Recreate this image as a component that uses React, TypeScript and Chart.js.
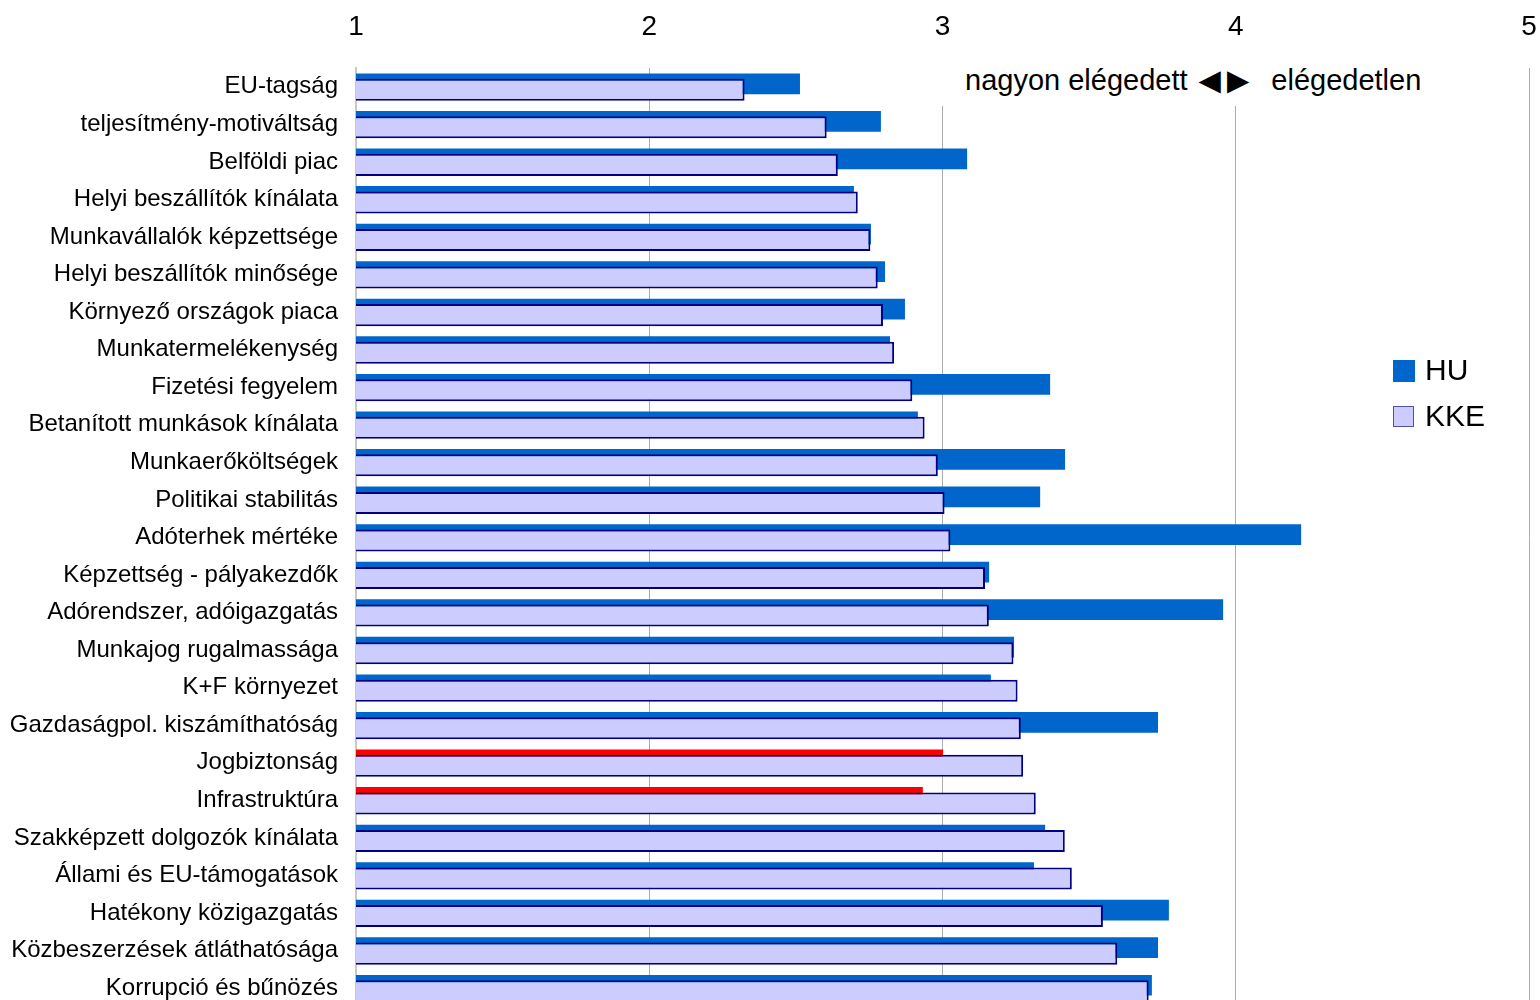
import React, { useEffect, useRef } from "react";
import { Chart, registerables } from "chart.js";

Chart.register(...registerables);

const CATEGORIES = [
  "EU-tagság",
  "teljesítmény-motiváltság",
  "Belföldi piac",
  "Helyi beszállítók kínálata",
  "Munkavállalók képzettsége",
  "Helyi beszállítók minősége",
  "Környező országok piaca",
  "Munkatermelékenység",
  "Fizetési fegyelem",
  "Betanított munkások kínálata",
  "Munkaerőköltségek",
  "Politikai stabilitás",
  "Adóterhek mértéke",
  "Képzettség - pályakezdők",
  "Adórendszer, adóigazgatás",
  "Munkajog rugalmassága",
  "K+F környezet",
  "Gazdaságpol. kiszámíthatóság",
  "Jogbiztonság",
  "Infrastruktúra",
  "Szakképzett dolgozók kínálata",
  "Állami és EU-támogatások",
  "Hatékony közigazgatás",
  "Közbeszerzések átláthatósága",
  "Korrupció és bűnözés",
];

const HU_VALUES = [
  2.514, 2.79, 3.084, 2.698, 2.756, 2.804, 2.872, 2.821, 3.367, 2.916, 3.418,
  3.333, 4.223, 3.159, 3.957, 3.244, 3.165, 3.735, 3.002, 2.933, 3.35, 3.312,
  3.772, 3.735, 3.714,
];

const KKE_VALUES = [
  2.325, 2.605, 2.643, 2.711, 2.754, 2.779, 2.797, 2.835, 2.897, 2.939, 2.984,
  3.007, 3.027, 3.145, 3.158, 3.242, 3.256, 3.267, 3.275, 3.318, 3.417, 3.441,
  3.547, 3.596, 3.703,
];

const HU_HIGHLIGHTED = ["Jogbiztonság", "Infrastruktúra"];

const X_TICKS = [1, 2, 3, 4, 5];

const SERIES_NAMES = ["HU", "KKE"];

const NOTE_LEFT = "nagyon elégedett";
const NOTE_ARROWS = "◀▶";
const NOTE_RIGHT = "elégedetlen";

const FONT = "'Liberation Sans', Arial, Helvetica, sans-serif";
const HU_COLOR = "#0066CC";
const HU_HIGHLIGHT_COLOR = "#FF0000";
const KKE_FILL = "#CCCCFF";
const KKE_BORDER = "#000080";

export default function App() {
  const canvasRef = useRef<HTMLCanvasElement | null>(null);

  useEffect(() => {
    const canvas = canvasRef.current;
    if (!canvas) return;
    const chart = new Chart(canvas, {
      type: "bar",
      data: {
        labels: CATEGORIES,
        datasets: [
          {
            label: "",
            data: [],
            stack: "hu",
          },
          {
            label: SERIES_NAMES[1],
            data: KKE_VALUES,
            stack: "kke",
            backgroundColor: KKE_FILL,
            borderColor: KKE_BORDER,
            borderWidth: 2,
            borderSkipped: false,
            categoryPercentage: 0.317,
            barPercentage: 3.7,
          },
          {
            label: SERIES_NAMES[0],
            data: HU_VALUES,
            stack: "hu",
            backgroundColor: CATEGORIES.map((c) =>
              HU_HIGHLIGHTED.includes(c) ? HU_HIGHLIGHT_COLOR : HU_COLOR
            ),
            borderWidth: 0,
            categoryPercentage: 0.317,
            barPercentage: 3.48,
          },
        ],
      },
      options: {
        indexAxis: "y",
        responsive: false,
        animation: false,
        devicePixelRatio: 1,
        layout: { padding: { left: 0, right: 11, top: 0, bottom: 3 } },
        plugins: {
          legend: { display: false },
          tooltip: { enabled: false },
        },
        scales: {
          x: {
            type: "linear",
            position: "top",
            min: X_TICKS[0],
            max: X_TICKS[X_TICKS.length - 1],
            stacked: false,
            afterBuildTicks: (scale: any) => {
              scale.ticks = X_TICKS.map((v) => ({ value: v }));
            },
            afterFit: (scale: any) => {
              scale.height = 68;
              scale.paddingLeft = 0;
              scale.paddingRight = 0;
            },
            ticks: {
              font: { family: FONT, size: 28 },
              color: "#000000",
              padding: 24,
            },
            grid: { color: "#ABABAB", lineWidth: 1, drawTicks: false },
            border: { display: false },
          },
          y: {
            type: "category",
            afterFit: (scale: any) => {
              scale.width = 356;
              scale.paddingTop = 0;
              scale.paddingBottom = 0;
            },
            ticks: {
              font: { family: FONT, size: 24 },
              color: "#000000",
              padding: 18,
              autoSkip: false,
            },
            grid: { display: false, drawTicks: false },
            border: { display: true, color: "#C8C8C8", width: 2 },
          },
        },
      },
    } as any);
    return () => chart.destroy();
  }, []);

  return (
    <div
      style={{
        position: "fixed",
        left: 0,
        top: 0,
        width: 1540,
        height: 1000,
        overflow: "hidden",
        background: "#ffffff",
      }}
    >
      <canvas
        ref={canvasRef}
        width={1540}
        height={1010}
        style={{ display: "block", width: 1540, height: 1010 }}
      />
      <div
        style={{
          position: "absolute",
          left: 930,
          top: 60,
          height: 46,
          paddingTop: 0,
          paddingLeft: 35,
          paddingRight: 20,
          background: "#ffffff",
          fontFamily: FONT,
          fontSize: 29,
          lineHeight: "40px",
          color: "#000",
          whiteSpace: "pre",
        }}
      >
        {NOTE_LEFT + " "}
        <span
          style={{
            fontFamily: "'DejaVu Sans', sans-serif",
            fontSize: 29,
            letterSpacing: 6,
            marginLeft: 3,
          }}
        >
          {NOTE_ARROWS}
        </span>
        {"  " + NOTE_RIGHT}
      </div>
      <div
        style={{
          position: "absolute",
          left: 1393,
          top: 360,
          width: 22,
          height: 22,
          background: HU_COLOR,
        }}
      />
      <div
        style={{
          position: "absolute",
          left: 1425,
          top: 355,
          fontFamily: FONT,
          fontSize: 30,
          lineHeight: "30px",
          color: "#000",
        }}
      >
        {SERIES_NAMES[0]}
      </div>
      <div
        style={{
          position: "absolute",
          left: 1393,
          top: 406,
          width: 19,
          height: 19,
          background: KKE_FILL,
          border: "1.5px solid #5050A8",
        }}
      />
      <div
        style={{
          position: "absolute",
          left: 1425,
          top: 401,
          fontFamily: FONT,
          fontSize: 30,
          lineHeight: "30px",
          color: "#000",
        }}
      >
        {SERIES_NAMES[1]}
      </div>
    </div>
  );
}
